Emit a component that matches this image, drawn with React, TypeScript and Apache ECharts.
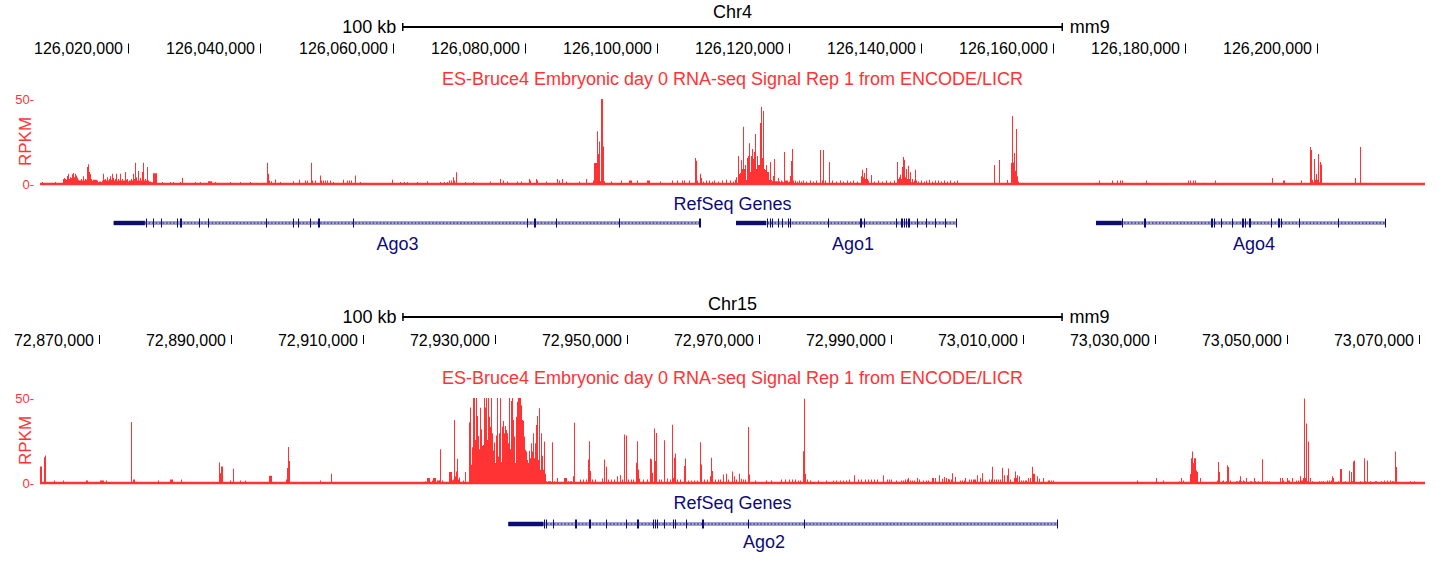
import React, { useEffect, useRef } from 'react';
import * as echarts from 'echarts';

const FONT = '"Liberation Sans", Arial, Helvetica, sans-serif';
const RED = '#ff3333';
const NAVY = '#0c0c78';

// ---- window definitions (genomic) ----
const chr4Start = 126006631; // bp at left edge of data area
const chr4BinBp = 151.4; // signal bin size (bp)
const chr15Start = 72861107;
const chr15BinBp = 151.5;
const binCount = 1385;
const scaleBarBp = 100000;
const assembly = 'mm9';
const trackTitle = 'ES-Bruce4 Embryonic day 0 RNA-seq Signal Rep 1 from ENCODE/LICR';
const geneTrackTitle = 'RefSeq Genes';

const chr4Ticks = [126020000, 126040000, 126060000, 126080000, 126100000, 126120000, 126140000, 126160000, 126180000, 126200000];
const chr15Ticks = [72870000, 72890000, 72910000, 72930000, 72950000, 72970000, 72990000, 73010000, 73030000, 73050000, 73070000];

// ---- RNA-seq signal (RPKM), runs of consecutive bins: [firstBin, values] ----
const chr4Signal: [number, number[]][] = [
  [2, [1.2]], [15, [1.2]],
  [23, [3, 3.5, 3, 2.5, 4.7, 6, 3, 4, 3.5, 5.7, 6.5, 4, 6, 5, 3.7, 2.5, 2, 2, 3, 2, 4.5, 2, 3, 2.5, 10, 11.6, 7, 5.7, 3, 2, 2.5, 2.5, 2.5, 2.5, 2, 1, 1.5, 1.5, 1, 2, 6, 2.5, 3, 2, 4, 2, 3, 4.5, 2.5, 6, 3.5, 2, 3, 6, 2, 3, 2, 6, 2, 3, 2, 2, 7, 2.5, 3, 1.5, 2, 2, 3, 2, 6, 3, 12.5, 4, 2, 7.6, 2, 3.5, 2, 7, 12.5, 2, 3, 2, 10, 2, 1.5, 1.5, 1, 1, 6.3, 6.3, 6.3, 6.3]],
  [122, [1.2]], [130, [1.2]], [133, [1.2]], [140, [1.2]], [142, [3.7]], [155, [1.2]], [160, [1.2]], [168, [1.6, 1.6, 1.6, 1.6]], [175, [1.2]], [190, [1.2]], [200, [1.2]], [210, [1.2]],
  [227, [12.5, 6, 2]], [231, [1.6]], [235, [2.7]], [240, [1.2]], [253, [1.6]], [259, [2.5]], [265, [2]], [267, [2]], [271, [12.5, 2]], [275, [2]], [280, [5, 2]], [283, [2]], [285, [2]], [287, [2]], [290, [2]], [293, [1.2]],
  [303, [2.5]], [307, [2]], [309, [2]], [311, [2]], [315, [5]], [320, [1.2]], [352, [2.5]], [360, [1.2]], [364, [1.2]], [367, [1.2]], [377, [1.2]], [387, [1.6]], [400, [1.2]], [404, [1.2]], [407, [1.2]], [409, [2]], [411, [2]], [413, [4, 2]], [416, [6.9]], [425, [1.2]], [433, [1.2]],
  [450, [1.5]], [460, [3]], [463, [2]], [467, [1.5]], [477, [1.5]], [481, [1.5]], [489, [3, 2]], [496, [3, 2]], [506, [1.5]], [517, [3]], [519, [2]], [522, [3]], [526, [1.5]], [539, [1.5]], [546, [3]],
  [553, [2, 12.4, 12.4, 12.4, 31, 17.6, 25, 1.6, 50, 50, 22, 1.6]],
  [571, [1.5]], [581, [2]], [589, [2, 2, 2]], [597, [2]], [607, [2, 2, 2]], [620, [1.5]], [632, [2]], [637, [2]], [642, [2]], [644, [2]], [649, [2]],
  [655, [15.3, 13.7, 2]], [660, [6, 3.5]], [663, [1.5]], [666, [2]], [669, [2]], [672, [1.5]], [674, [2]], [678, [1.5]], [682, [2]], [686, [2.5]], [690, [2]], [693, [1.5]], [695, [2.5, 4]],
  [698, [16.5, 5.9, 6.5, 14, 8.8, 33.7, 8.8, 11.2, 2.4, 15.3, 16.5, 24, 7, 16.5, 20.6, 14.7, 18.8, 29.4, 8.8, 16.5, 11.2, 11.2, 35.9, 45.5, 15.3, 43, 8.8, 8.2, 11.2, 7, 7, 2.4, 13, 2.4, 1.6, 4.7, 14.7, 1.6, 1.6, 1.6, 3.5, 1.6, 1, 2, 1.5, 1, 18.8, 2, 2, 2, 1, 1.5, 4.7, 13.5, 20.6, 2]],
  [755, [2]], [757, [1.5]], [759, [2]], [761, [1.5]], [763, [2]], [766, [1.5]], [770, [2]], [773, [1.5]], [776, [2]], [780, [20]], [782, [2, 20]], [785, [2]], [789, [13]], [792, [2]], [796, [1.5]], [800, [2]], [803, [1.5]], [807, [2]], [810, [1.5]], [813, [2]], [817, [1.5]],
  [821, [4.5, 8.4, 4, 6.5, 3, 9.4, 3, 2]], [831, [5.3]], [834, [1.5]], [838, [2]], [842, [1.5]], [846, [2]], [850, [1.5]], [854, [2]],
  [857, [13, 3, 4, 5.5, 3, 10, 15.9, 14.3, 4, 8.8, 3, 10.8, 3, 6.9, 1, 2.9, 1, 2, 8.4, 2]],
  [878, [1.5]], [881, [2]], [884, [1.5]], [886, [2]], [889, [2.5]], [892, [1.5]], [895, [2]], [898, [2]], [901, [1.5]], [904, [2]], [907, [1.5]], [910, [2]], [914, [1.5]], [917, [2]],
  [954, [11.2]], [959, [14.1]], [967, [2.4]], [971, [12.4, 40, 12.7, 18.2, 7.8, 32.4, 4.5, 1.5]],
  [1059, [2]], [1072, [2]], [1077, [2]], [1080, [2]], [1082, [2]], [1106, [2]], [1148, [2]], [1150, [2]], [1153, [2]], [1155, [2]], [1175, [2]], [1232, [3.5]], [1243, [2, 2]], [1261, [2]],
  [1270, [21.8, 20, 2.5, 1, 14.7, 2.5, 5.9, 2.5, 17.6, 1, 13, 11.4]], [1315, [3.5]], [1320, [21.8]],
];

const chr15Signal: [number, number[]][] = [
  [0, [9.7, 9.7]], [4, [15.2, 16.2]], [14, [1.4]], [23, [1.4]], [46, [1.4, 1.4]], [60, [1.4, 1.4, 1.4, 1.4]], [66, [1.4]], [91, [35.9]], [93, [2, 2]], [118, [1.4]], [130, [2, 2, 2]], [141, [2]],
  [179, [12, 5.8, 9.7, 9.7]], [190, [1.4]], [193, [8.4]], [200, [1.4]], [205, [1.4]], [229, [4.3, 4.3, 4.3]], [246, [2, 8.8, 21.2, 13]], [280, [1.4]], [291, [5.5]],
  [385, [1]], [387, [2.9, 2.9, 2.9]], [392, [1.4, 2.9, 2.9, 2.9]], [397, [1.4, 1.4, 1.6, 19.9]], [402, [1.4]], [409, [6.4, 6.4, 6.4, 1.6, 2, 37, 3.9, 6.8, 14.2, 2, 3.3]], [423, [1.4]], [425, [6.4]],
  [429, [35.7, 44.4, 10.7, 21, 50, 50, 25.3, 50, 39.4, 27.7, 19.9, 44.2, 31.6, 21.8, 22.4, 50, 44.4, 50, 25.3, 50, 39, 33.1, 50, 29.2, 19.1, 23.8, 11.7, 27.9, 50, 15.6, 29.2, 50, 12.3, 33.1, 36.5, 29.2, 33.5, 31.2, 29.2, 23.4, 50, 19.9, 48.3, 50, 37, 27.3, 11.7, 39, 47.8, 50, 50, 50, 45.8, 37, 36.6, 27.3, 19.5, 18.5, 13.6, 11.7, 18.9, 14.6, 23.4, 18.5, 29.2, 14.6, 23.4, 34.1, 39.4, 13.6, 43.9, 7.8, 29.2, 16, 7.8, 24.4, 5.5, 1]],
  [508, [1, 1, 1]], [512, [24]], [514, [1]], [517, [2.9]], [524, [2.9, 2.9, 2.9]], [528, [1]], [530, [1, 1]], [533, [3.9, 35.5]],
  [540, [2]], [543, [2]], [546, [2]], [548, [13.8, 24.6, 7]], [552, [2]], [555, [2]], [562, [2.7]], [564, [13.8]], [566, [9.6]], [568, [2]], [571, [2]], [574, [2]], [577, [4]], [580, [4.7]], [582, [2]], [584, [28.5]], [586, [27.9]], [588, [2]], [591, [2]], [593, [2]],
  [596, [11.9, 24.6, 8, 2.7]], [603, [2]], [607, [2]], [610, [14.4, 13.8, 6]], [614, [32, 12.9, 29.4]], [619, [2]], [621, [2]], [624, [25.1]], [627, [2.7]], [630, [2]], [632, [34.3, 3, 14.8, 17.3]], [637, [2]], [640, [2]], [644, [10, 14.4]],
  [648, [1.5]], [651, [1.5]], [654, [1.5]], [657, [1.5]], [660, [24, 10.9]], [664, [2]], [667, [2]], [670, [4, 14.8, 7]], [675, [2]], [678, [2]], [680, [2]], [683, [5]], [686, [5.5]], [688, [2]], [692, [6.8]], [694, [4]], [696, [2]], [699, [5.5]], [701, [2.5]], [703, [2]], [705, [2]], [708, [33, 5]],
  [715, [1.5]], [726, [1.5]], [731, [1.5]], [741, [2]], [745, [2]], [749, [2]], [752, [2]], [755, [2]], [758, [1.5]], [760, [1.5]], [763, [18.7, 49.5, 5.5]], [767, [2]], [770, [1.5]], [778, [1.5]], [786, [1.5]], [793, [1.5]], [796, [1.5]], [800, [1.5]], [803, [1.5]], [806, [1.5]], [809, [2]], [814, [4.5]], [818, [2]], [821, [2]], [825, [2]], [828, [2]], [831, [2]], [834, [2]], [837, [2]],
  [843, [4.5]], [847, [2]], [849, [2]], [851, [2]], [856, [1.5]], [861, [1.5]], [863, [1.5]], [865, [2]], [867, [2, 3]], [870, [1.5]], [872, [1.5]], [874, [1.5]], [877, [3]], [879, [2]], [883, [1.5]], [886, [1.5]], [888, [1.5]], [892, [3, 3]], [895, [3]], [899, [4.5]],
  [902, [2.5]], [904, [3.5]], [906, [3]], [908, [2.5, 2]], [911, [2, 5.7]], [915, [3.5]], [920, [1.5]], [922, [1.5]], [924, [1.5, 3]], [929, [2]], [931, [2]], [933, [2, 2, 2]], [937, [4.5]], [940, [3]], [942, [5.7]], [945, [1.5]], [949, [2]], [951, [2, 9.6]], [954, [2]], [956, [2]], [958, [2]], [960, [2]], [962, [9]], [964, [4.5]], [967, [4.5, 8.6]], [970, [2]],
  [974, [3, 6.8, 3, 4.5]], [979, [4]], [981, [1.5]], [983, [1.5]], [985, [1.5, 1.5]], [988, [3]], [990, [3]], [992, [9.6, 5.5, 5.5]], [997, [4]], [999, [2.5]], [1003, [3]], [1008, [1.5, 1.5]], [1011, [1.5]], [1013, [1.5]],
  [1097, [1.5]], [1116, [2.9]], [1123, [1.4]], [1139, [1]], [1141, [2.9]], [1143, [1.4]], [1150, [5.3, 14.6, 18.5, 11.7, 14.6, 14.6, 7.4, 6.4]], [1160, [2.9]], [1177, [1.4, 12.3, 6.4]], [1182, [1, 1.4]], [1186, [1, 10.5, 9.4]], [1190, [1.4]], [1196, [1, 1]], [1199, [1.4, 3.9, 1]], [1203, [1.4, 1]], [1206, [2.9]], [1210, [1, 1]], [1214, [2.9, 1]], [1218, [1]], [1222, [14]], [1225, [1]], [1227, [1]], [1229, [1]],
  [1240, [2.9]], [1242, [2.9, 1.4]], [1247, [2.9, 1.4, 1.4]], [1252, [2.9]], [1256, [1.4]], [1258, [1.4]], [1260, [3.9, 1.4, 1.4, 2.9, 49.7, 2.9, 35, 1, 24.4]], [1270, [2.9]], [1272, [1]], [1279, [1]], [1281, [1]], [1283, [1]], [1287, [1.4]], [1289, [1.4]], [1291, [1.4, 3.9, 2.9]], [1298, [1]], [1300, [8.2, 8.2]], [1305, [1]], [1309, [7.2]], [1311, [6.4, 1, 12.7, 13.3]],
  [1320, [1]], [1324, [14.6, 1]], [1327, [13.3]], [1330, [1]], [1335, [1, 1]], [1341, [1]], [1344, [1.4]], [1347, [1.4]], [1350, [1.4]], [1352, [1, 1]], [1355, [18.5, 9.4]], [1370, [1]], [1374, [1]],
];

// ---- RefSeq gene models, positions in signal bins from window start ----
type Gene = { name: string; tx: [number, number]; utr: [number, number]; label: number; exons: [number, number][] };
const chr4Genes: Gene[] = [
  { name: 'Ago3', tx: [73.7, 660], utr: [73.7, 104.9], label: 357.5,
    exons: [[105.8, 1], [113, 1], [120.5, 1], [137, 1], [140.2, 1.5], [159.4, 1], [167.9, 1], [225.9, 1], [253.1, 1], [257.6, 1], [269.6, 1], [277.7, 2], [313.4, 1], [486.6, 1], [493.7, 2], [516.5, 1], [579.5, 1], [659, 1.5]] },
  { name: 'Ago1', tx: [696, 917], utr: [696, 726], label: 813,
    exons: [[727.3, 1], [730, 1], [732.3, 1], [737.7, 1], [742.3, 1], [748.3, 1], [750.3, 1], [787.7, 1], [820, 2], [824, 1], [856, 1], [860.7, 1], [862.3, 1], [864, 1], [866, 1], [868.3, 2], [876.7, 1], [886, 1], [895, 1], [905.3, 1], [916, 1.2]] },
  { name: 'Ago4', tx: [1056, 1346], utr: [1056, 1081.7], label: 1214,
    exons: [[1081.7, 1], [1104.3, 2], [1170.7, 2], [1174, 1], [1181, 1], [1191.7, 1], [1201.7, 1], [1203.3, 1], [1205, 1], [1208.7, 2], [1230.7, 1], [1237.7, 2], [1240.7, 1], [1259.3, 1], [1298, 1.5], [1345, 1.2]] },
];
const chr15Genes: Gene[] = [
  { name: 'Ago2', tx: [468.3, 1018], utr: [468.3, 503.3], label: 724,
    exons: [[504, 1], [506, 1], [513.3, 1], [535, 1.5], [549, 1.5], [565.7, 1], [585.7, 1], [596.7, 1.5], [612.7, 1], [614.7, 1], [616.7, 1], [624.3, 1], [632.7, 1], [635, 1], [645.7, 1], [661.7, 1.5], [708.3, 1], [764.3, 1], [1017, 1.2]] },
];

const fmtCoord = (v: number) => Math.round(v).toLocaleString('en-US');

function expandSignal(runs: [number, number[]][], start: number, bin: number) {
  const out: number[][] = [];
  runs.forEach(([b, vals]) => vals.forEach((v, i) => out.push([start + (b + i) * bin, v])));
  return out;
}

type PanelCfg = {
  chrom: string; start: number; bin: number; ticks: number[]; signal: [number, number[]][]; genes: Gene[];
  rulerTop: number; signalTop: number; geneTop: number;
  chromY: number; barY: number; tickY0: number; tickY1: number; labelY: number;
  refY: number; geneY: number; nameY: number;
};

export default function App() {
  const ref = useRef<HTMLDivElement>(null);
  useEffect(() => {
    if (!ref.current) return;
    const chart = echarts.init(ref.current, undefined, { renderer: 'svg' });
    const panels: PanelCfg[] = [
      { chrom: 'Chr4', start: chr4Start, bin: chr4BinBp, ticks: chr4Ticks, signal: chr4Signal, genes: chr4Genes,
        rulerTop: 0, signalTop: 99, geneTop: 190, chromY: 12, barY: 27, tickY0: 43.5, tickY1: 53.5, labelY: 48,
        refY: 14, geneY: 33, nameY: 54 },
      { chrom: 'Chr15', start: chr15Start, bin: chr15BinBp, ticks: chr15Ticks, signal: chr15Signal, genes: chr15Genes,
        rulerTop: 290, signalTop: 398, geneTop: 488, chromY: 14, barY: 27, tickY0: 45, tickY1: 54, labelY: 50,
        refY: 14.5, geneY: 36, nameY: 53.5 },
    ];
    const grid: any[] = [];
    const xAxis: any[] = [];
    const yAxis: any[] = [];
    const series: any[] = [];
    const graphic: any[] = [];
    const L = 40, W = 1385;
    const gridBase = { left: L, width: W, containLabel: false, outerBoundsMode: 'none' };
    panels.forEach((p, pi) => {
      const end = p.start + binCount * p.bin;
      const gi = pi * 3;
      grid.push({ ...gridBase, top: p.rulerTop, height: 60 });
      grid.push({ ...gridBase, top: p.signalTop, height: 85 });
      grid.push({ ...gridBase, top: p.geneTop, height: 70 });
      for (let k = 0; k < 3; k++) {
        xAxis.push({ gridIndex: gi + k, type: 'value', min: p.start, max: end, show: false });
      }
      yAxis.push({ gridIndex: gi, type: 'value', min: 0, max: 60, inverse: true, show: false });
      yAxis.push({
        gridIndex: gi + 1, type: 'value', min: 0, max: 50, interval: 50,
        axisLine: { show: false }, axisTick: { show: false }, splitLine: { show: false },
        axisLabel: { formatter: '{value}-', color: RED, fontSize: 13, margin: 6, fontFamily: FONT },
        name: 'RPKM', nameLocation: 'middle', nameRotate: 90, nameGap: 6, nameMoveOverlap: false,
        nameTextStyle: { color: RED, fontSize: 17, fontFamily: FONT },
      });
      yAxis.push({ gridIndex: gi + 2, type: 'value', min: 0, max: 70, inverse: true, show: false });

      // ruler ticks + labels
      series.push({
        type: 'custom', xAxisIndex: gi, yAxisIndex: gi, silent: true,
        data: p.ticks.map((t) => [t, 0]),
        renderItem: (_: any, api: any) => {
          const v = api.value(0);
          const a = api.coord([v, p.tickY0]);
          const b = api.coord([v, p.tickY1]);
          const c = api.coord([v, p.labelY]);
          const x = Math.round(a[0]) + 0.5;
          return {
            type: 'group', children: [
              { type: 'line', shape: { x1: x, y1: a[1], x2: x, y2: b[1] }, style: { stroke: '#000', lineWidth: 1 } },
              { type: 'text', x: x - 5.5, y: c[1], style: { text: fmtCoord(v), fill: '#000', font: `16px ${FONT}`, align: 'right', verticalAlign: 'middle', textAlign: 'right', textVerticalAlign: 'middle' } },
            ],
          };
        },
      });
      // scale bar centered in window
      const mid = (p.start + end) / 2;
      series.push({
        type: 'custom', xAxisIndex: gi, yAxisIndex: gi, silent: true,
        data: [[mid - scaleBarBp / 2, mid + scaleBarBp / 2]],
        renderItem: (_: any, api: any) => {
          const a = api.coord([api.value(0), p.barY]);
          const b = api.coord([api.value(1), p.barY]);
          const c = api.coord([(api.value(0) + api.value(1)) / 2, p.chromY]);
          const y = Math.round(a[1]);
          const ts = { fill: '#000', font: `18px ${FONT}`, verticalAlign: 'middle', textVerticalAlign: 'middle' };
          return {
            type: 'group', children: [
              { type: 'line', shape: { x1: a[0], y1: y, x2: b[0], y2: y }, style: { stroke: '#000', lineWidth: 2 } },
              { type: 'line', shape: { x1: a[0] + 0.5, y1: y - 4, x2: a[0] + 0.5, y2: y + 4 }, style: { stroke: '#000', lineWidth: 1.5 } },
              { type: 'line', shape: { x1: b[0] - 0.5, y1: y - 4, x2: b[0] - 0.5, y2: y + 4 }, style: { stroke: '#000', lineWidth: 1.5 } },
              { type: 'text', x: a[0] - 6, y, style: { ...ts, text: `${scaleBarBp / 1000} kb`, align: 'right', textAlign: 'right' } },
              { type: 'text', x: b[0] + 7, y, style: { ...ts, text: assembly, align: 'left', textAlign: 'left' } },
              { type: 'text', x: c[0], y: c[1], style: { ...ts, text: p.chrom, align: 'center', textAlign: 'center' } },
            ],
          };
        },
      });
      // signal bars
      series.push({
        type: 'custom', xAxisIndex: gi + 1, yAxisIndex: gi + 1, silent: true, clip: true,
        data: expandSignal(p.signal, p.start, p.bin),
        encode: { x: 0, y: 1 },
        renderItem: (_: any, api: any) => {
          const x0 = api.value(0), v = api.value(1);
          const p0 = api.coord([x0, 0]);
          const p1 = api.coord([x0 + p.bin, Math.min(v, 50)]);
          const xl = Math.round(p0[0]);
          const w = Math.max(1, Math.round(p1[0]) - xl);
          return { type: 'rect', shape: { x: xl, y: p1[1], width: w, height: p0[1] - p1[1] }, style: { fill: RED } };
        },
      });
      // baseline
      series.push({
        type: 'line', xAxisIndex: gi + 1, yAxisIndex: gi + 1, silent: true, symbol: 'none',
        data: [[p.start, 0], [end, 0]], lineStyle: { color: RED, width: 2.5 }, clip: false,
      });
      // genes
      series.push({
        type: 'custom', xAxisIndex: gi + 2, yAxisIndex: gi + 2, silent: true,
        data: p.genes.map((_, i) => [i, 0]),
        renderItem: (params: any, api: any) => {
          const g = p.genes[params.dataIndex];
          const pos = (b: number) => p.start + b * p.bin;
          const cy = api.coord([pos(g.tx[0]), p.geneY])[1];
          const X = (b: number) => api.coord([pos(b), p.geneY])[0];
          const children: any[] = [];
          const x0 = X(g.tx[0]), x1 = X(g.tx[1]);
          children.push({ type: 'rect', shape: { x: x0, y: cy - 2, width: x1 - x0, height: 4 }, style: { fill: '#a3a3cf' } });
          children.push({ type: 'line', shape: { x1: x0, y1: cy, x2: x1, y2: cy }, style: { stroke: NAVY, lineWidth: 1.2, lineDash: [1.5, 2] } });
          const u0 = X(g.utr[0]), u1 = X(g.utr[1]);
          children.push({ type: 'rect', shape: { x: u0, y: cy - 2.2, width: u1 - u0, height: 4.4 }, style: { fill: NAVY } });
          g.exons.forEach(([b, w]) => {
            const ex = X(b);
            const ew = Math.max(1, X(b + w) - ex);
            children.push({ type: 'rect', shape: { x: Math.round(ex), y: cy - 4.5, width: Math.round(ew) || 1, height: 9 }, style: { fill: NAVY } });
          });
          const lp = api.coord([pos(g.label), p.nameY]);
          children.push({ type: 'text', x: lp[0], y: lp[1], style: { text: g.name, fill: NAVY, font: `18px ${FONT}`, align: 'center', verticalAlign: 'middle', textAlign: 'center', textVerticalAlign: 'middle' } });
          return { type: 'group', children };
        },
      });
      graphic.push({ type: 'text', x: L + W / 2, y: p.signalTop - 20, silent: true,
        style: { text: trackTitle, fill: RED, font: `18px ${FONT}`, align: 'center', verticalAlign: 'middle', textAlign: 'center', textVerticalAlign: 'middle' } });
      graphic.push({ type: 'text', x: L + W / 2, y: p.geneTop + p.refY, silent: true,
        style: { text: geneTrackTitle, fill: NAVY, font: `18px ${FONT}`, align: 'center', verticalAlign: 'middle', textAlign: 'center', textVerticalAlign: 'middle' } });
    });
    chart.setOption({ animation: false, backgroundColor: '#fff', grid, xAxis, yAxis, series, graphic });
    return () => chart.dispose();
  }, []);
  return <div ref={ref} style={{ position: 'absolute', left: 0, top: 0, width: 1439, height: 563 }} />;
}
